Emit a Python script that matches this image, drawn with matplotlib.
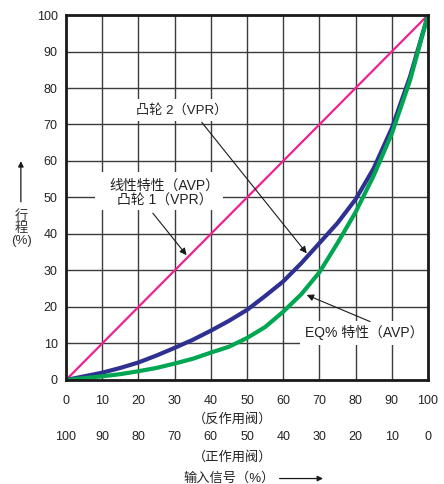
import matplotlib.pyplot as plt
from matplotlib.patches import Rectangle

plt.rcParams['font.family'] = ['Liberation Sans', 'Noto Sans CJK SC']
plt.rcParams['text.color'] = '#222222'

# input signal (%) and valve travel (%) for each characteristic
signal = [0, 5, 10, 15, 20, 25, 30, 35, 40, 45, 50, 55, 60, 65, 70, 75, 80, 85, 90, 95, 100]
linear = [0, 5, 10, 15, 20, 25, 30, 35, 40, 45, 50, 55, 60, 65, 70, 75, 80, 85, 90, 95, 100]
cam2 = [0, 1, 2, 3.3, 4.8, 6.7, 8.8, 11, 13.5, 16.2, 19.2, 23, 27, 32, 37.5, 43, 49.5, 58, 69, 83, 100]
eq_pct = [0, 0.5, 1, 1.6, 2.4, 3.3, 4.5, 5.8, 7.5, 9.1, 11.5, 14.5, 18.7, 23.5, 29.5, 37.5, 46, 56, 67.5, 82, 100]

ticks = [0, 10, 20, 30, 40, 50, 60, 70, 80, 90, 100]
direct_labels = ['100', '90', '80', '70', '60', '50', '40', '30', '20', '10', '0']

fig = plt.figure(figsize=(4.44, 4.84), dpi=100)
ax = fig.add_axes([0.1486, 0.2149, 0.8154, 0.7541])

ax.plot(signal, linear, color='#ec2290', lw=1.6, zorder=3)
ax.plot(signal, cam2, color='#2e3192', lw=3, zorder=3)
ax.plot(signal, eq_pct, color='#00a651', lw=3, zorder=4)

ax.set_xlim(0, 100)
ax.set_ylim(0, 100)
ax.set_xticks(ticks)
ax.set_yticks(ticks)
ax.tick_params(length=0, labelsize=9, labelcolor='#222222')
ax.tick_params(axis='x', pad=11)
ax.tick_params(axis='y', pad=6)
ax.grid(True, color='#3c3c3c', lw=1, zorder=1)
for s in ax.spines.values():
    s.set_linewidth(2)
    s.set_color('#1a1a1a')
    s.set_zorder(5)

# second row: direct-acting valve scale
xt = ax.get_xaxis_transform()
for x, lab in zip(ticks, direct_labels):
    ax.text(x, -0.155, lab, transform=xt, ha='center', va='center', fontsize=9)
ax.text(46, -0.108, '（反作用阀）', transform=xt, ha='center', va='center', fontsize=9.5)
ax.text(46, -0.213, '（正作用阀）', transform=xt, ha='center', va='center', fontsize=9.5)
ax.text(45, -0.27, '输入信号（%）', transform=xt, ha='center', va='center', fontsize=9.5)
ax.annotate('', xy=(71, -0.27), xytext=(59, -0.27), xycoords=xt, textcoords=xt,
            arrowprops=dict(arrowstyle='-|>', color='#1a1a1a', lw=0.9, mutation_scale=8,
                            shrinkA=0, shrinkB=0),
            annotation_clip=False)

# y axis title with arrow
fig.text(0.049, 0.528, '行\n程\n(%)', ha='center', va='center', fontsize=9.5,
         color='#333333', linespacing=1.0)
ax.annotate('', xy=(0.047, 0.667), xytext=(0.047, 0.583), xycoords='figure fraction',
            textcoords='figure fraction', annotation_clip=False,
            arrowprops=dict(arrowstyle='-|>', color='#1a1a1a', lw=0.9, mutation_scale=8,
                            shrinkA=0, shrinkB=0))

box = dict(facecolor='white', edgecolor='none', pad=3)
arrow = dict(arrowstyle='-|>', color='#1a1a1a', lw=0.8, mutation_scale=10, shrinkA=0, shrinkB=0)

ax.text(32, 74, '凸轮 2（VPR）', fontsize=9.5, ha='center', va='center', bbox=box, zorder=6)
ax.annotate('', xy=(66.5, 34.7), xytext=(37.5, 70.6), arrowprops=arrow, zorder=6)

ax.add_patch(Rectangle((8, 46.6), 35.5, 10.4, facecolor='white', edgecolor='none', zorder=2))
ax.text(27.3, 51.2, '线性特性（AVP）\n凸轮 1（VPR）', fontsize=10, ha='center', va='center',
        zorder=6, linespacing=1.15)
ax.annotate('', xy=(33.3, 34.2), xytext=(24, 45.7), arrowprops=arrow, zorder=6)

# EQ% label sits under the frame so the right spine stays unbroken
ax.text(82.3, 12.9, 'EQ% 特性（AVP）', fontsize=10, ha='center', va='center',
        bbox=dict(facecolor='white', edgecolor='none', pad=3.5), zorder=4.6)
ax.annotate('', xy=(66.5, 23.3), xytext=(84, 16), arrowprops=arrow, zorder=6)

fig.savefig('out.png', dpi=100)
